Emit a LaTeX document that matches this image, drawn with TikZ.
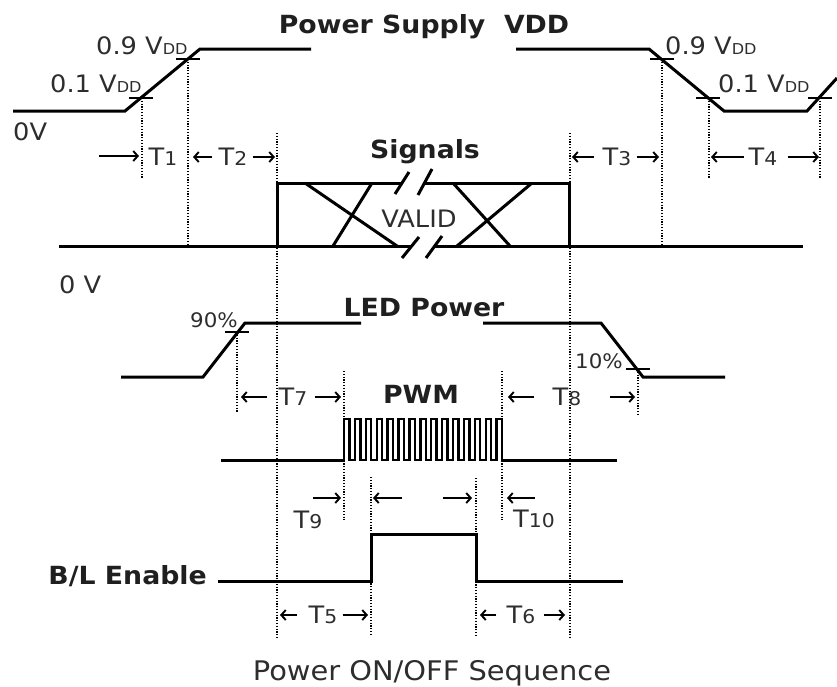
\documentclass[tikz,border=0pt]{standalone}
\usepackage{fontspec}
\setmainfont{DejaVu Sans}[FakeStretch=1.07]
\usetikzlibrary{arrows.meta,positioning}
\definecolor{inkgray}{RGB}{45,45,45}
\newcommand{\vdd}{V{\fontsize{15pt}{15pt}\selectfont DD}}
\newcommand{\tnum}[1]{{\fontsize{19pt}{19pt}\selectfont #1}}
\tikzset{
    trace/.style={line width=3pt,line join=miter},
    tickmark/.style={line width=2.6pt},
    guide/.style={line width=1.2pt,dash pattern=on 1.2pt off 1.6pt},
    dim/.style={line width=1.9pt,-{Straight Barb[length=4.5pt,width=10pt]},shorten >=2pt},
    lbl/.style={inner sep=0pt,text=inkgray,font=\fontsize{24pt}{28pt}\selectfont},
    head/.style={inner sep=0pt,text=black!88,font=\fontsize{25pt}{28pt}\selectfont\bfseries},
    pct/.style={lbl,font=\fontsize{20pt}{24pt}\selectfont}
}

\begin{document}
\begin{tikzpicture}[x=1pt,y=-1pt]
\useasboundingbox (0,0) rectangle (837,686);

% dotted guides
\foreach \n/\x/\a/\b in {g1/142/98/178, g2/188/59/245, g3/277/133/639,
    g4/570/133/639, g5/662/59/245, g6/709/98/178, g7/820/98/178,
    g8/237/332/413, g9/638/369/415, g10/344/371/520, g11/502/371/520,
    g12/371/477/636, g13/476/478/636}{
    \coordinate (\n) at (\x,\a);
    \draw[guide] (\n) -- (\x,\b);
}

% power supply
\node[head,anchor=base] (vddtitle) at (424,33) {Power Supply\ \ VDD};
\draw[trace] (13,111) -- (125,111) -- (200,49) -- (311,49);
\draw[trace] (516,49) -- (649,49) -- (724,111) -- (807,111) -- (837,78);
\foreach \x/\y in {141/98,188/59,662/59,708/98,820/98}
    \draw[tickmark] (\x-12,\y) -- (\x+12,\y);
\node[lbl,anchor=base west] (up90) at (96,54) {0.9 \vdd};
\node[lbl,anchor=base west] (up10) at (50,92) {0.1 \vdd};
\node[lbl,anchor=base west] (dn90) at (665,54) {0.9 \vdd};
\node[lbl,anchor=base west] (dn10) at (718,92) {0.1 \vdd};
\node[lbl,anchor=base west] (zeroa) at (13,140) {0V};

\coordinate (t1from) at (99,156);
\draw[dim,shorten >=3pt] (t1from) -- (t1from -| g1);
\node[lbl] (t1) at (163,157) {T\tnum{1}};
\node[lbl] (t2) at (233,157) {T\tnum{2}};
\draw[dim,shorten >=5pt] ([xshift=-6pt]t2.west) -- (t2.west -| g2);
\draw[dim] ([xshift=5pt]t2.east) -- (t2.east -| g3);
\node[lbl] (t3) at (617,157) {T\tnum{3}};
\draw[dim] ([xshift=-8pt]t3.west) -- (t3.west -| g4);
\draw[dim,shorten >=3pt] ([xshift=5pt]t3.east) -- (t3.east -| g5);
\node[lbl] (t4) at (763,157) {T\tnum{4}};
\draw[dim] ([xshift=-5pt]t4.west) -- (t4.west -| g6);
\draw[dim,shorten >=1pt] ([xshift=10pt]t4.east) -- (t4.east -| g7);

% signals
\node[head,anchor=base] (sig) at (425,158) {Signals};
\draw[trace] (59,246) -- (412,246);
\draw[trace] (435,246) -- (803,246);
\draw[trace] (402,183) -- (277,183) -- (277,246);
\draw[trace] (425,183) -- (569,183) -- (569,246);
\draw[trace] (305,183) -- (397,246) (372,183) -- (333,246);
\draw[trace] (453,183) -- (510,246) (532,183) -- (457,246);
\draw[trace] (395,194) -- (409,172) (418,195) -- (432,169)
    (402,258) -- (419,237) (426,258) -- (442,236);
\node[lbl,anchor=base] (valid) at (419,227) {VALID};
\node[lbl,anchor=base west] (zerob) at (59,293) {0 V};

% LED power
\node[head,anchor=base] (led) at (424,316) {LED Power};
\draw[trace] (121,377) -- (203,377) -- (245,323) -- (361,323);
\draw[trace] (483,323) -- (601,323) -- (643,377) -- (725,377);
\draw[tickmark] (225,332) -- (249,332);
\draw[tickmark] (626,369) -- (650,369);
\node[pct,anchor=base east] (p90) at (238,327) {90\%};
\node[pct,anchor=base west] (p10) at (575,368) {10\%};

\node[lbl] (t7) at (293,397) {T\tnum{7}};
\draw[dim,shorten >=4pt] ([xshift=-11pt]t7.west) -- (t7.west -| g8);
\draw[dim,shorten >=3pt] ([xshift=7pt]t7.east) -- (t7.east -| g10);
\node[lbl] (t8) at (567,397) {T\tnum{8}};
\draw[dim,shorten >=6pt] ([xshift=-18pt]t8.west) -- (t8.west -| g11);
\draw[dim,shorten >=3pt] ([xshift=28pt]t8.east) -- (t8.east -| g9);

% PWM
\node[head,anchor=base] (pwm) at (421,403) {PWM};
\draw[trace] (221,460) -- (345,460);
\draw[trace] (501,460) -- (617,460);
\draw[trace,line width=2.4pt] (344,460)
    foreach \i in {1,...,15}{ -- ++(0,-41) -- ++(5.45,0) -- ++(0,41) -- ++(5.45,0)};

\node[lbl] (t9) at (308,520) {T\tnum{9}};
\coordinate (t9from) at (313,498);
\draw[dim,shorten >=3pt] (t9from) -- (t9from -| g10);
\coordinate (onfrom) at (402,498);
\draw[dim] (onfrom) -- (onfrom -| g12);
\coordinate (offfrom) at (443,498);
\draw[dim,shorten >=4pt] (offfrom) -- (offfrom -| g13);
\node[lbl] (t10) at (534,519) {T\tnum{10}};
\coordinate (t10from) at (535,498);
\draw[dim,shorten >=5pt] (t10from) -- (t10from -| g11);

% backlight enable
\node[head,anchor=base east] (bl) at (207,584) {B/L Enable};
\draw[trace] (218,581) -- (371,581) -- (371,534) -- (476,534) -- (476,581) -- (623,581);

\node[lbl] (t5) at (323,615) {T\tnum{5}};
\draw[dim,shorten >=3pt] ([xshift=-11pt]t5.west) -- (t5.west -| g3);
\draw[dim,shorten >=3pt] ([xshift=5pt]t5.east) -- (t5.east -| g12);
\node[lbl] (t6) at (521,615) {T\tnum{6}};
\draw[dim,shorten >=4pt] ([xshift=-10pt]t6.west) -- (t6.west -| g13);
\draw[dim,shorten >=5pt] ([xshift=8pt]t6.east) -- (t6.east -| g4);

\node[lbl,anchor=base,font=\fontsize{27pt}{30pt}\selectfont] (caption) at (432,680) {Power ON/OFF Sequence};
\end{tikzpicture}
\end{document}
